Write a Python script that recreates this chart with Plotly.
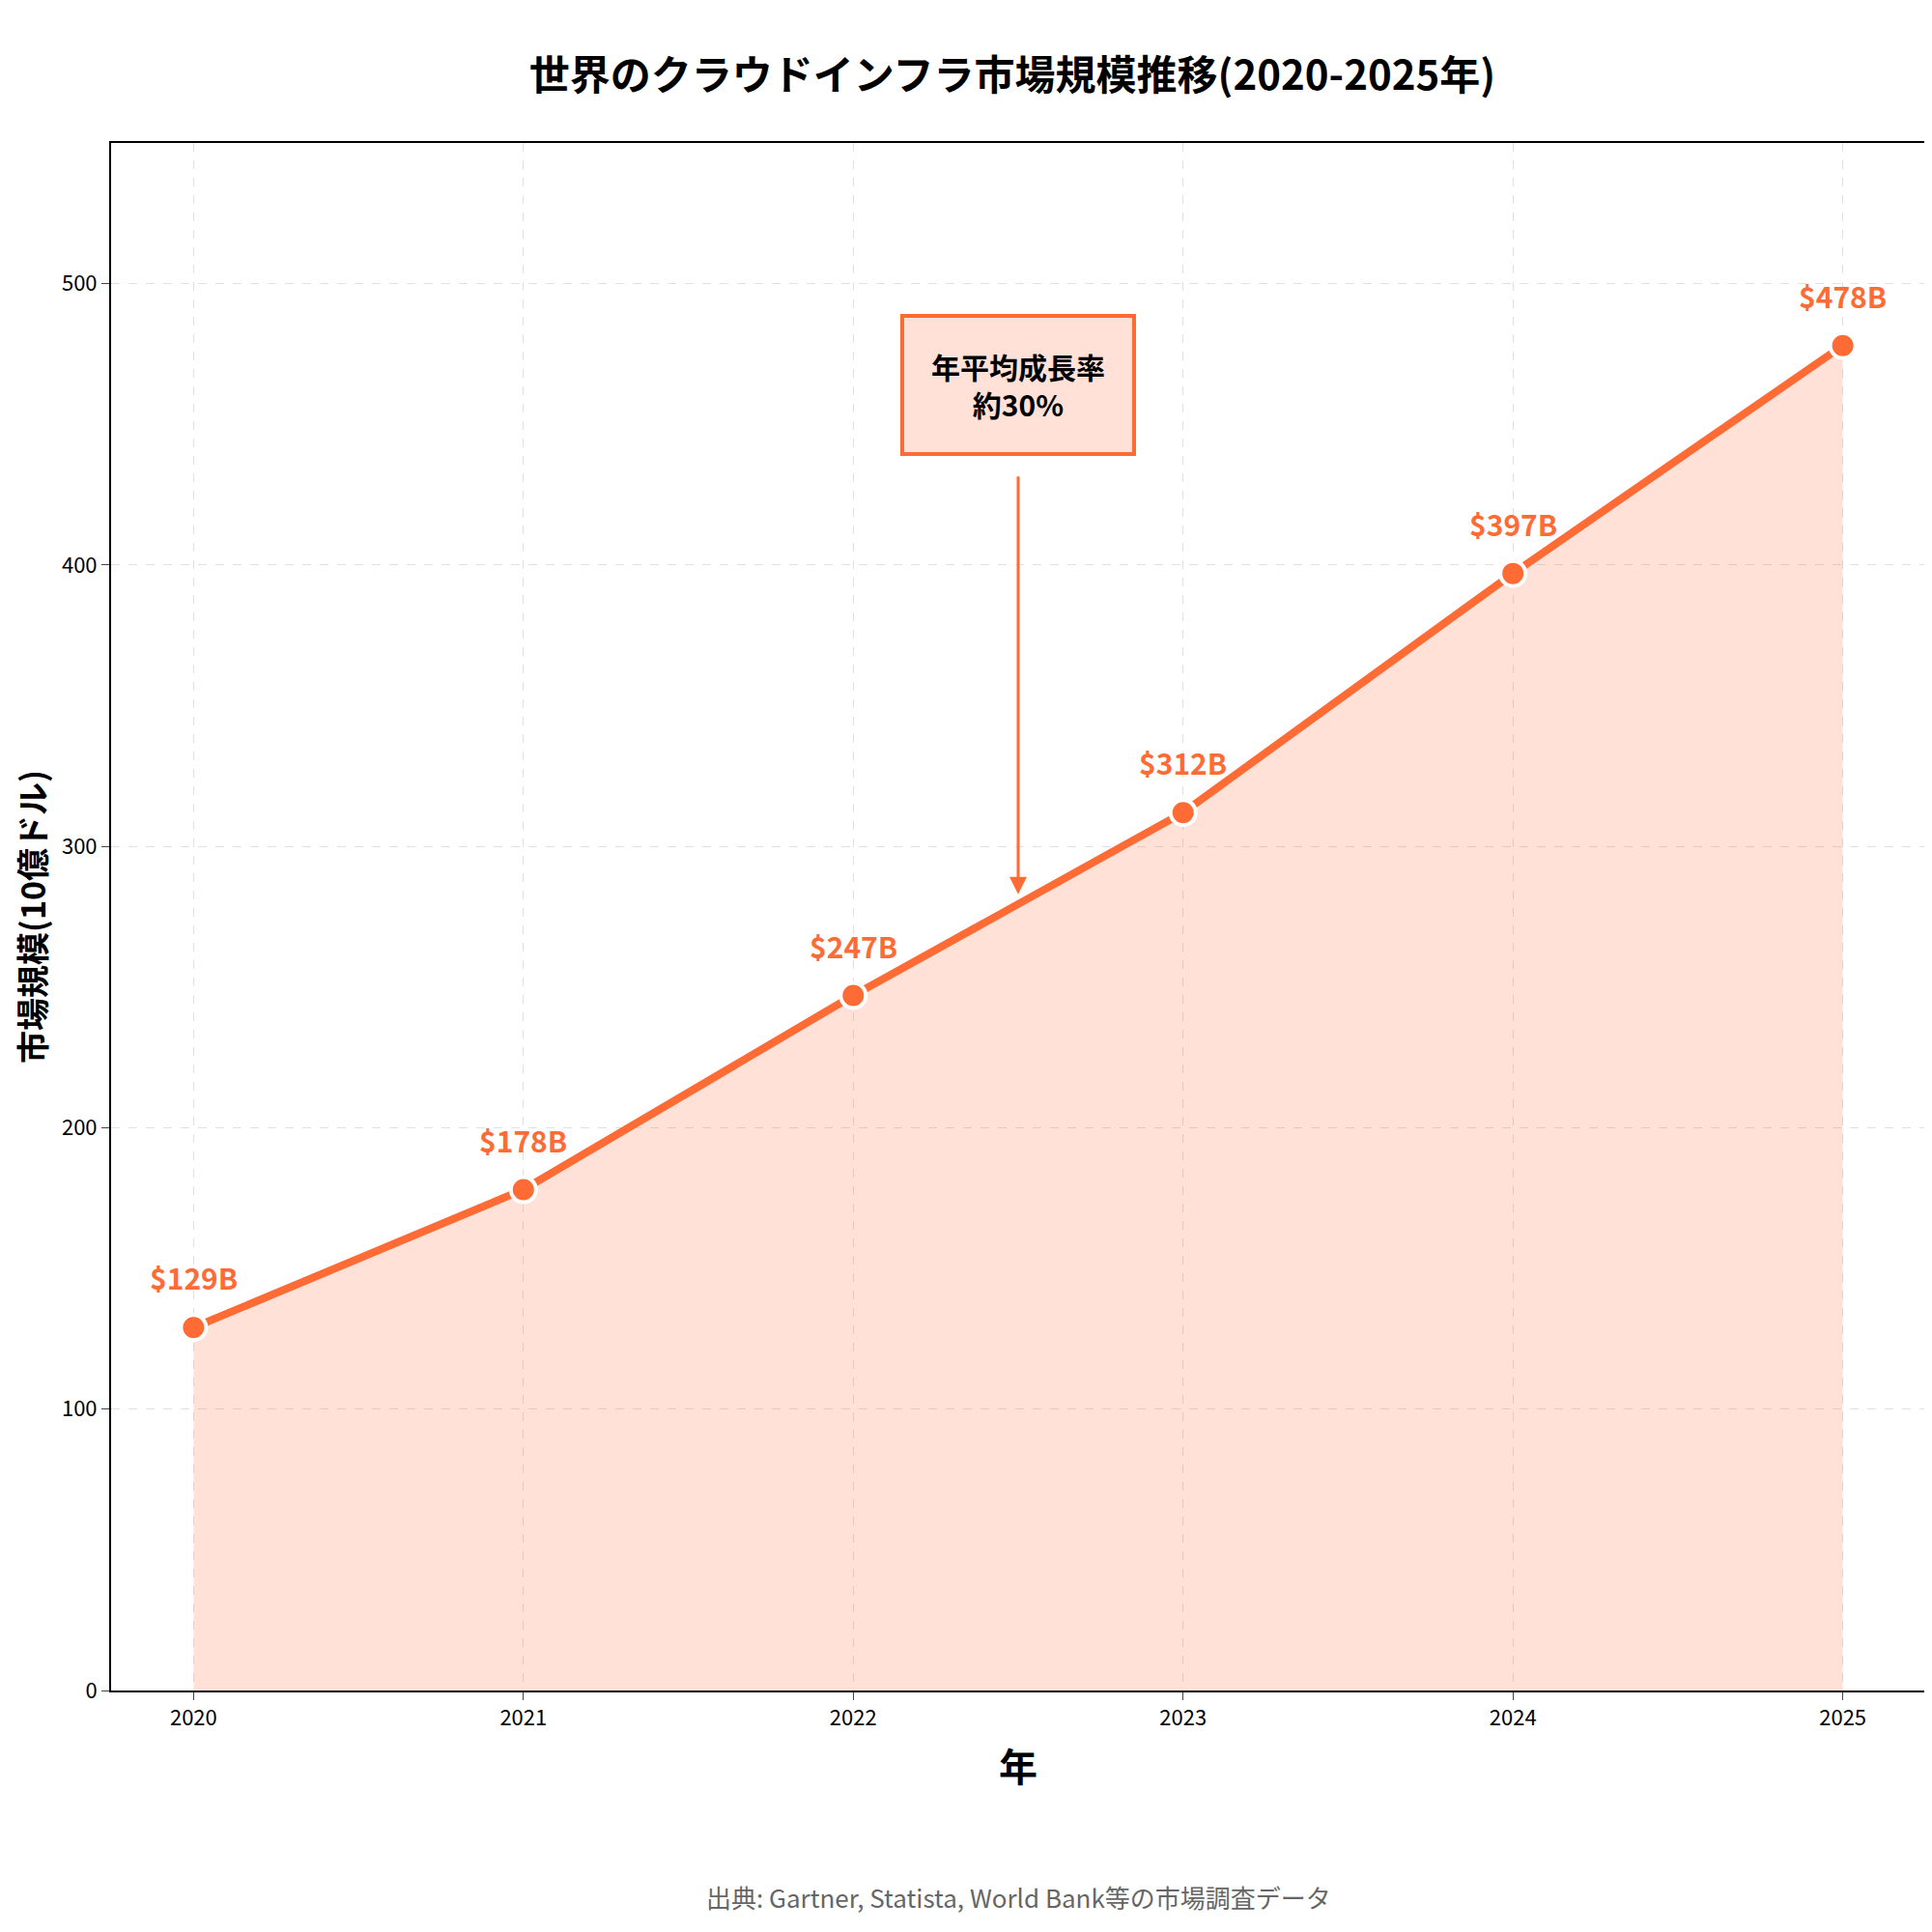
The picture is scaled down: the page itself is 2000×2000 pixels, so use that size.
import plotly.graph_objects as go

years = [2020, 2021, 2022, 2023, 2024, 2025]
values = [129, 178, 247, 312, 397, 478]
labels = ["$129B", "$178B", "$247B", "$312B", "$397B", "$478B"]
color = "#FF6B35"
F = "Noto Sans CJK JP"

fig = go.Figure()
fig.add_trace(go.Scatter(x=years, y=values, mode="lines", fill="tozeroy",
                         fillcolor="rgba(255,107,53,0.2)", line=dict(color=color, width=8),
                         hoverinfo="skip", showlegend=False))
fig.add_trace(go.Scatter(x=years, y=values, mode="markers",
                         marker=dict(size=26, color=color, line=dict(color="white", width=4)),
                         showlegend=False))
for x, y, t in zip(years, values, labels):
    fig.add_annotation(x=x, y=y, text=f"<b>{t}</b>", showarrow=False, yshift=52,
                       font=dict(family=F, size=30, color=color))
fig.add_annotation(x=2022.5, y=283, ax=2022.5, ay=432, axref="x", ayref="y",
                   text="", showarrow=True, arrowhead=2, arrowsize=1.2, arrowwidth=3, arrowcolor=color)
fig.add_annotation(x=2022.5, y=464, text="<b>年平均成長率</b><br><b>約30%</b>", showarrow=False,
                   font=dict(family=F, size=30, color="black"),
                   bgcolor="rgba(255,107,53,0.2)", bordercolor=color, borderwidth=4, borderpad=28)
fig.update_layout(
    width=2000, height=2000, paper_bgcolor="white", plot_bgcolor="white",
    margin=dict(l=93, r=15, t=140, b=258),
    title=dict(text="<b>世界のクラウドインフラ市場規模推移(2020-2025年)</b>", x=0.52, y=0.972,
               xanchor="center", font=dict(family=F, size=42, color="black")),
    font=dict(family=F),
)
fig.update_xaxes(range=[2019.75, 2025.25], tickvals=years, ticks="outside", ticklen=8,
                 tickfont=dict(size=22, color="black"), showline=True, linecolor="black", linewidth=2,
                 mirror=True, showgrid=True, gridcolor="rgba(0,0,0,0.12)", griddash="dash",
                 title=dict(text="<b>年</b>", font=dict(size=40, color="black"), standoff=25))
fig.update_yaxes(range=[0, 550], tickvals=[0, 100, 200, 300, 400, 500], ticks="outside", ticklen=8,
                 tickfont=dict(size=22, color="black"), showline=True, linecolor="black", linewidth=2,
                 mirror=True, showgrid=True, gridcolor="rgba(0,0,0,0.12)", griddash="dash", zeroline=False,
                 title=dict(text="<b>市場規模(10億ドル)</b>", font=dict(size=34, color="black"), standoff=20))
fig.add_annotation(x=0.5, y=-0.133, xref="paper", yref="paper", xanchor="center", yanchor="middle",
                   text="出典: Gartner, Statista, World Bank等の市場調査データ",
                   showarrow=False, font=dict(family=F, size=26, color="#666666"))
fig.write_html("out.html")
